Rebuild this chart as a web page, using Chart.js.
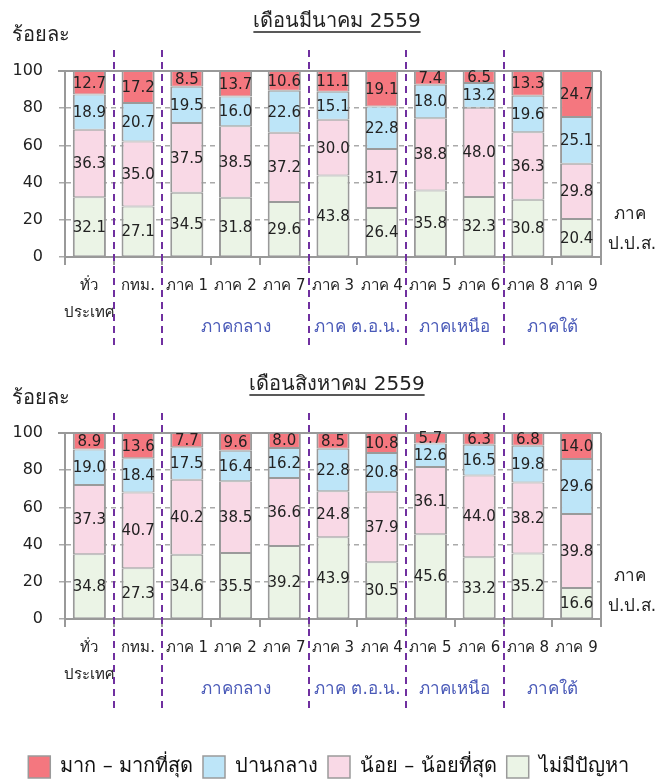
<!DOCTYPE html>
<html>
<head>
<meta charset="utf-8">
<script src="https://cdn.jsdelivr.net/npm/chart.js@4.4.0/dist/chart.umd.min.js"></script>
<style>
  html, body { margin: 0; padding: 0; background: #fff; overflow: hidden; }
  #wrap { position: relative; width: 657px; height: 779px; overflow: hidden; }
  .box { position: absolute; left: 0; width: 657px; }
</style>
</head>
<body>
<div id="wrap">
  <div class="box" style="top:0;height:360px"><canvas id="chartMar"></canvas></div>
  <div class="box" style="top:360px;height:428px"><canvas id="chartAug"></canvas></div>
</div>
<script>
// --- Data ---
const categories = [['ทั่ว', 'ประเทศ'], 'กทม.', 'ภาค 1', 'ภาค 2', 'ภาค 7', 'ภาค 3', 'ภาค 4', 'ภาค 5', 'ภาค 6', 'ภาค 8', 'ภาค 9'];
const seriesNames = ['ไม่มีปัญหา', 'น้อย – น้อยที่สุด', 'ปานกลาง', 'มาก – มากที่สุด'];
const seriesColors = ['#ebf4e6', '#f9d9e6', '#bde5f8', '#f4777f'];

// เดือนมีนาคม 2559
const marNone   = [32.1, 27.1, 34.5, 31.8, 29.6, 43.8, 26.4, 35.8, 32.3, 30.8, 20.4];
const marLow    = [36.3, 35.0, 37.5, 38.5, 37.2, 30.0, 31.7, 38.8, 48.0, 36.3, 29.8];
const marMid    = [18.9, 20.7, 19.5, 16.0, 22.6, 15.1, 22.8, 18.0, 13.2, 19.6, 25.1];
const marHigh   = [12.7, 17.2,  8.5, 13.7, 10.6, 11.1, 19.1,  7.4,  6.5, 13.3, 24.7];

// เดือนสิงหาคม 2559
const augNone   = [34.8, 27.3, 34.6, 35.5, 39.2, 43.9, 30.5, 45.6, 33.2, 35.2, 16.6];
const augLow    = [37.3, 40.7, 40.2, 38.5, 36.6, 24.8, 37.9, 36.1, 44.0, 38.2, 39.8];
const augMid    = [19.0, 18.4, 17.5, 16.4, 16.2, 22.8, 20.8, 12.6, 16.5, 19.8, 29.6];
const augHigh   = [ 8.9, 13.6,  7.7,  9.6,  8.0,  8.5, 10.8,  5.7,  6.3,  6.8, 14.0];

const yTicks = [0, 20, 40, 60, 80, 100];

// region groups (category index ranges) and divider positions
const groups = [
    { label: 'ภาคกลาง', from: 2, to: 4 },
    { label: 'ภาค ต.อ.น.', from: 5, to: 6 },
    { label: 'ภาคเหนือ', from: 7, to: 8 },
    { label: 'ภาคใต้', from: 9, to: 10 }
];
const dividers = [1, 2, 5, 7, 9];

const FONT = "'DejaVu Sans', sans-serif";

// --- Custom drawing: labels, dividers, titles ---
const decorPlugin = {
    id: 'decor',
    beforeDatasetsDraw(chart) {
        const { ctx, chartArea: a } = chart;
        ctx.save();
        ctx.strokeStyle = '#999';
        ctx.lineWidth = 2;
        ctx.beginPath();
        ctx.moveTo(a.left - 7, a.top);
        ctx.lineTo(a.right, a.top);
        ctx.moveTo(a.right, a.top);
        ctx.lineTo(a.right, a.bottom + 8);
        ctx.stroke();
        ctx.restore();
    },
    afterDatasetsDraw(chart) {
        const { ctx } = chart;
        ctx.save();
        ctx.font = '15px ' + FONT;
        ctx.fillStyle = '#222';
        ctx.textAlign = 'center';
        ctx.textBaseline = 'middle';
        chart.data.datasets.forEach((ds, i) => {
            const meta = chart.getDatasetMeta(i);
            meta.data.forEach((el, j) => {
                const v = ds.data[j];
                ctx.fillText(v.toFixed(1), el.x, (el.y + el.base) / 2 + 1);
            });
        });
        ctx.restore();
    },
    afterDraw(chart, args, opts) {
        const { ctx, chartArea: a, scales: { x } } = chart;
        const step = (a.right - a.left) / categories.length;
        ctx.save();

        // title
        ctx.font = '20px ' + FONT;
        ctx.fillStyle = '#222';
        ctx.textAlign = 'center';
        ctx.textBaseline = 'middle';
        const tx = 337;
        ctx.fillText(opts.title, tx, opts.titleY);
        const tw = ctx.measureText(opts.title).width;
        ctx.strokeStyle = '#222';
        ctx.lineWidth = 1.3;
        ctx.beginPath();
        ctx.moveTo(tx - tw / 2, opts.titleY + 10);
        ctx.lineTo(tx + tw / 2, opts.titleY + 10);
        ctx.stroke();

        // y unit
        ctx.textAlign = 'left';
        ctx.fillText('ร้อยละ', 12, opts.titleY + 14);

        // right-hand axis caption
        ctx.font = '17px ' + FONT;
        ctx.textAlign = 'center';
        ctx.fillText('ภาค', 630, a.bottom - 42);
        ctx.fillText('ป.ป.ส.', 632, a.bottom - 12);

        // region groups
        ctx.fillStyle = '#4a5ab8';
        groups.forEach(g => {
            const cx = (x.getPixelForValue(g.from) + x.getPixelForValue(g.to)) / 2;
            ctx.fillText(g.label, cx, a.bottom + 71);
        });

        // purple dashed dividers
        ctx.strokeStyle = '#7030a0';
        ctx.lineWidth = 2;
        ctx.setLineDash([7, 5]);
        dividers.forEach(d => {
            const px = Math.round(a.left + step * d);
            ctx.beginPath();
            ctx.moveTo(px, opts.titleY + 28);
            ctx.lineTo(px, a.bottom + 92);
            ctx.stroke();
        });
        ctx.restore();
    }
};

function makeDatasets(rows) {
    return rows.map((vals, i) => ({
        label: seriesNames[i],
        data: vals,
        backgroundColor: seriesColors[i],
        borderColor: '#9a9a9a',
        borderWidth: { top: 1, bottom: 1, left: 2, right: 2 },
        borderSkipped: false,
        categoryPercentage: 1.0,
        barPercentage: 0.68
    }));
}

function makeChart(id, rows, title, showLegend) {
    const ctx = document.getElementById(id).getContext('2d');
    return new Chart(ctx, {
        type: 'bar',
        data: { labels: categories, datasets: makeDatasets(rows) },
        plugins: [decorPlugin],
        options: {
            responsive: true,
            maintainAspectRatio: false,
            animation: false,
            layout: { padding: { top: showLegend ? 73 : 71, right: 0, left: 0, bottom: 0 } },
            scales: {
                x: {
                    stacked: true,
                    offset: true,
                    afterFit: s => { s.height = showLegend ? 127 : 103; },
                    grid: { offset: true, drawOnChartArea: false, drawTicks: true, tickLength: 8, color: '#999', lineWidth: 2 },
                    border: { display: true, color: '#999', width: 2 },
                    ticks: { font: { size: 15, family: FONT, lineHeight: 1.8 }, color: '#222', padding: 8, maxRotation: 0, autoSkip: false }
                },
                y: {
                    stacked: true,
                    min: 0,
                    max: 100,
                    afterFit: s => { s.width = 65; },
                    afterBuildTicks: s => { s.ticks = yTicks.map(v => ({ value: v })); },
                    grid: { color: '#aaa', lineWidth: 1.5, tickLength: 6 },
                    border: { display: true, color: '#999', width: 2, dash: [5, 4] },
                    ticks: { font: { size: 16, family: FONT }, color: '#222', padding: 16 }
                },
                yRight: {
                    position: 'right',
                    display: true,
                    afterFit: s => { s.width = 56; },
                    grid: { display: false },
                    border: { display: false },
                    ticks: { display: false }
                }
            },
            plugins: {
                legend: {
                    display: showLegend,
                    position: 'bottom',
                    reverse: true,
                    labels: { boxWidth: 22, boxHeight: 22, padding: 10, color: '#111', font: { size: 20, family: FONT } }
                },
                tooltip: { enabled: false },
                decor: { title: title, titleY: showLegend ? 25 : 22 }
            }
        }
    });
}

makeChart('chartMar', [marNone, marLow, marMid, marHigh], 'เดือนมีนาคม 2559', false);
makeChart('chartAug', [augNone, augLow, augMid, augHigh], 'เดือนสิงหาคม 2559', true);
</script>
</body>
</html>
